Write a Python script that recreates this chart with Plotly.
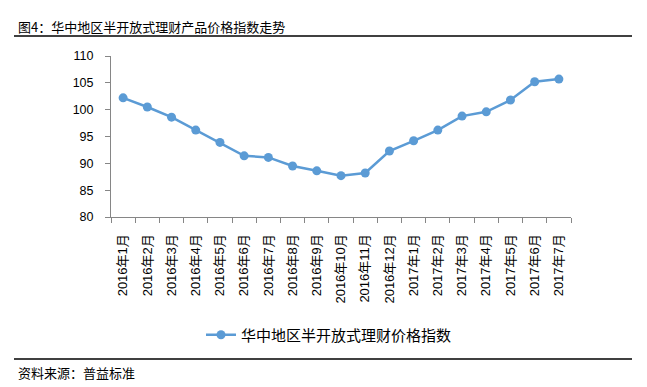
import plotly.graph_objects as go

categories = ["2016年1月", "2016年2月", "2016年3月", "2016年4月", "2016年5月", "2016年6月",
              "2016年7月", "2016年8月", "2016年9月", "2016年10月", "2016年11月", "2016年12月",
              "2017年1月", "2017年2月", "2017年3月", "2017年4月", "2017年5月", "2017年6月",
              "2017年7月"]
values = [102.2, 100.5, 98.6, 96.2, 93.9, 91.4, 91.1, 89.5, 88.6, 87.7, 88.2, 92.3,
          94.2, 96.2, 98.8, 99.6, 101.8, 105.2, 105.7]
series_name = "华中地区半开放式理财价格指数"
title_text = "图4：华中地区半开放式理财产品价格指数走势"
source_text = "资料来源：普益标准"
y_ticks = [80, 85, 90, 95, 100, 105, 110]

W, H = 647, 387
L, R, T, B = 111, 76, 56, 170
pw, ph = W - L - R, H - T - B

def px(x):
    return (x - L) / pw

def py(y):
    return 1 - (y - T) / ph

FONT = "Liberation Sans, Arial, Noto Sans CJK SC, sans-serif"
CJK = "Noto Sans CJK SC, Liberation Sans, sans-serif"
color = "#5B9BD5"

fig = go.Figure()
fig.add_trace(go.Scatter(
    x=categories, y=values, name=series_name, mode="lines+markers",
    line=dict(color=color, width=2.5),
    marker=dict(color=color, size=9),
))

fig.update_layout(
    width=W, height=H,
    margin=dict(l=L, r=R, t=T, b=B),
    paper_bgcolor="white", plot_bgcolor="white",
    font=dict(family=FONT, size=12, color="black"),
    showlegend=True,
    legend=dict(orientation="h", x=px(201), y=py(335), xanchor="left", yanchor="middle",
                font=dict(family=CJK, size=15, color="black")),
    xaxis=dict(type="category", range=[-0.5, len(categories) - 0.5],
               showline=True, linecolor="#868686", linewidth=1,
               ticks="outside", tickson="boundaries", ticklen=5, tickcolor="#868686",
               ticklabelstandoff=11,
               tickangle=-90, showgrid=False, tickfont=dict(family=FONT, size=13)),
    yaxis=dict(range=[80, 110], tickvals=y_ticks, showline=True, linecolor="#868686",
               linewidth=1, ticks="outside", ticklen=5, tickcolor="#868686",
               ticklabelstandoff=9,
               showgrid=False, zeroline=False, tickfont=dict(family=FONT, size=12.5)),
    shapes=[
        dict(type="line", xref="paper", yref="paper", x0=px(14), x1=px(632),
             y0=py(36), y1=py(36), line=dict(color="black", width=1.3)),
        dict(type="line", xref="paper", yref="paper", x0=px(14), x1=px(632),
             y0=py(359), y1=py(359), line=dict(color="black", width=1.3)),
    ],
    annotations=[
        dict(text=title_text, xref="paper", yref="paper", x=px(16), y=py(26),
             xanchor="left", yanchor="middle", showarrow=False,
             font=dict(family=CJK, size=13, color="black")),
        dict(text=source_text, xref="paper", yref="paper", x=px(16), y=py(372),
             xanchor="left", yanchor="middle", showarrow=False,
             font=dict(family=CJK, size=13, color="black")),
    ],
)

fig.write_html("out.html", config={"displayModeBar": False},
               post_script="document.body.style.margin='0';")
